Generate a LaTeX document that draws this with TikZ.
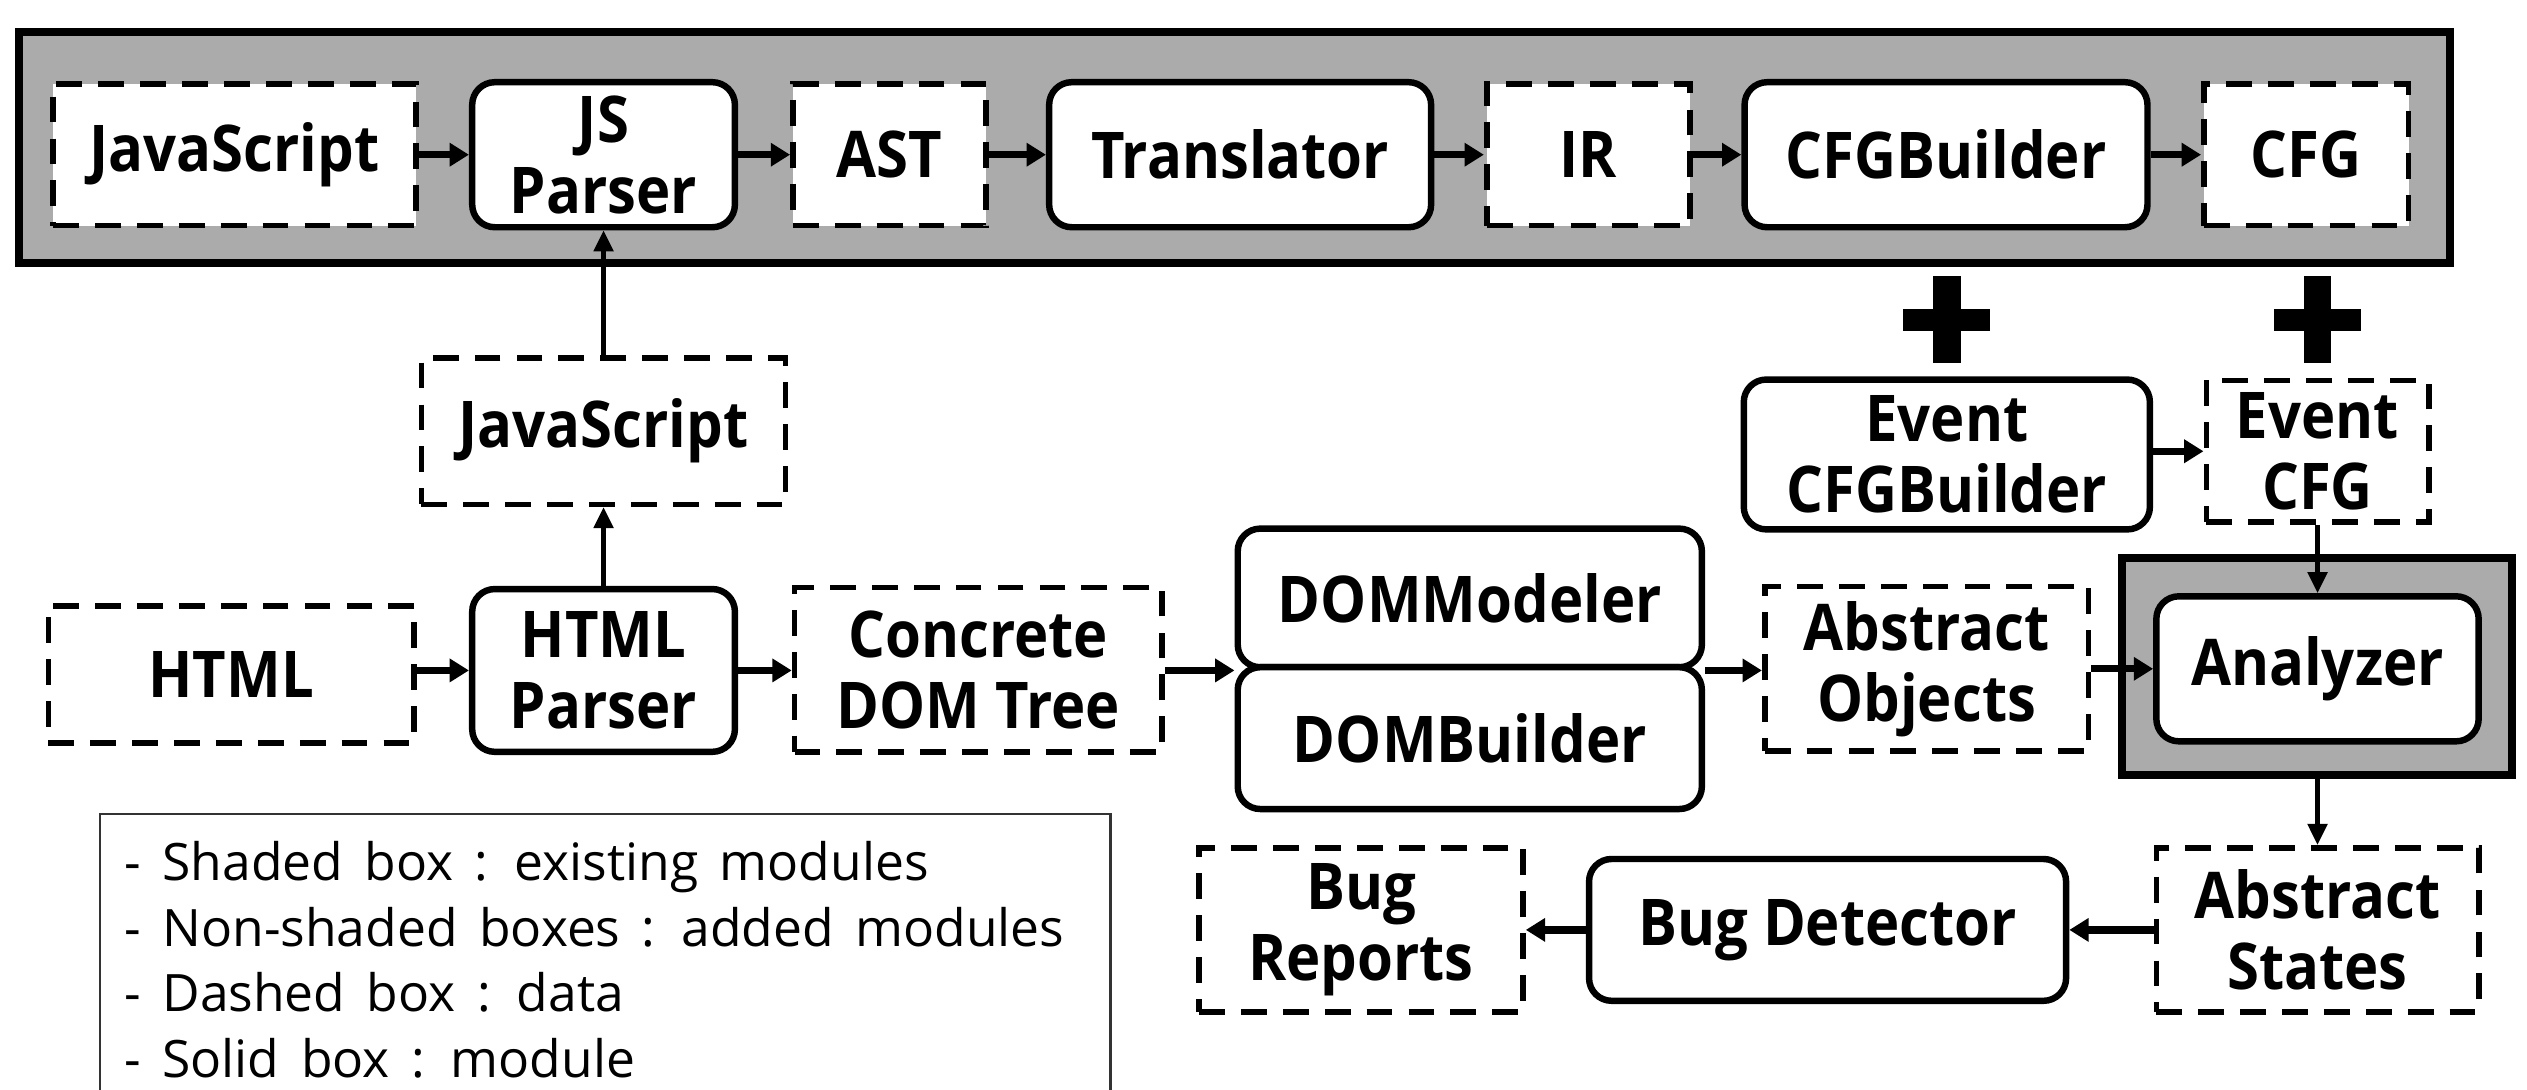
\documentclass[tikz,border=0pt]{standalone}
\usepackage{fontspec}
\usetikzlibrary{arrows.meta}
\newfontfamily\boxfont{Open Sans}[FakeStretch=0.90]
\newfontfamily\legfont{Open Sans}[FakeStretch=1.0, WordSpace=1.6]
\definecolor{shade}{HTML}{ABABAB}
\tikzset{
  base/.style={font=\boxfont\bfseries\fontsize{40}{44}\selectfont, align=center,
    inner sep=0pt, fill=white},
  databox/.style={base, draw, line width=3.5pt, dash pattern=on 16pt off 10pt},
  modbox/.style={base, draw, line width=4pt, rounded corners=14pt},
  frame/.style={draw, fill=shade, line width=5pt, inner sep=0pt},
  conn/.style={line width=4.5pt, -{Triangle[length=12pt,width=14pt]}},
  vconn/.style={line width=2.6pt, -{Triangle[length=13pt,width=12pt]}},
  plusbar/.style={fill=black},
}
\begin{document}
\begin{tikzpicture}[x=1pt, y=-1pt]
\useasboundingbox (0,0) rectangle (1568,676);
\clip (0,0) rectangle (1568,676);

% JavaScript front end (existing pipeline)
\node[frame, minimum width=1508pt, minimum height=143pt] (topframe) at (766,91.5) {};
\node[databox, minimum width=225pt, minimum height=88pt] (js1) at (145.5,96) {JavaScript};
\node[modbox, minimum width=163pt, minimum height=90pt] (jsp) at (374.5,96) {JS\\Parser};
\node[databox, minimum width=120pt, minimum height=88pt] (ast) at (552,96) {AST};
\node[modbox, minimum width=237pt, minimum height=90pt] (trans) at (769.5,96) {Translator};
\node[databox, minimum width=126pt, minimum height=88pt] (ir) at (985.5,96) {IR};
\node[modbox, minimum width=250pt, minimum height=90pt] (cfgb) at (1207.5,96) {CFGBuilder};
\node[databox, minimum width=127pt, minimum height=88pt] (cfg) at (1431,96) {CFG};

\draw[conn] (js1) -- (jsp);
\draw[conn] (jsp) -- (ast);
\draw[conn] (ast) -- (trans);
\draw[conn] (trans) -- (ir);
\draw[conn] (ir) -- (cfgb);
\draw[conn] (cfgb) -- (cfg);

% plus signs
\fill[plusbar] (1199.5,171) rectangle (1216.5,225);
\fill[plusbar] (1181,191.5) rectangle (1235,205.5);
\fill[plusbar] (1429.5,171) rectangle (1446.5,225);
\fill[plusbar] (1411,191.5) rectangle (1465,205.5);

% event handling
\node[modbox, minimum width=252pt, minimum height=93pt] (ecb) at (1208,282) {Event\\CFGBuilder};
\node[databox, minimum width=138pt, minimum height=88pt] (ecfg) at (1438,280) {Event\\CFG};
\draw[conn] (ecb.east |- ecfg.west) -- (ecfg.west);

% HTML front end
\node[databox, minimum width=226pt, minimum height=91pt] (jsm) at (374.5,267.5) {JavaScript};
\node[databox, minimum width=227pt, minimum height=85pt] (html) at (143.5,418.5) {HTML};
\node[modbox, minimum width=163pt, minimum height=101pt] (hp) at (374.5,416) {HTML\\Parser};
\node[databox, minimum width=228pt, minimum height=102pt] (cdt) at (607,415.5) {Concrete\\DOM Tree};
\node[modbox, minimum width=288pt, minimum height=86pt] (dmm) at (912,371) {DOMModeler};
\node[modbox, minimum width=288pt, minimum height=88pt] (dmb) at (912,458) {DOMBuilder};
\node[databox, minimum width=201pt, minimum height=102pt] (ao) at (1195.5,415) {Abstract\\Objects};

\draw[vconn] (jsm.north) -- (jsp.south);
\draw[vconn] (hp.north) -- (jsm.south);
\draw[conn] (html.east |- hp.west) -- (hp.west);
\draw[conn] (hp.east) -- (cdt.west |- hp.east);
\draw[conn] (cdt.east |- dmm.south west) -- (dmm.south west);
\draw[conn] (dmm.south east) -- (ao.west |- dmm.south east);

% analysis
\node[frame, minimum width=242pt, minimum height=135pt] (anf) at (1437.5,413.5) {};
\node[modbox, minimum width=200pt, minimum height=90pt] (an) at (1438,415) {Analyzer};
\draw[conn] (ao.east) -- (an.west |- ao.east);
\draw[vconn] (ecfg.south) -- (an.north);

\node[databox, minimum width=200pt, minimum height=102pt] (as) at (1438,577) {Abstract\\States};
\node[modbox, minimum width=296pt, minimum height=88pt] (bd) at (1134,577) {Bug Detector};
\node[databox, minimum width=201pt, minimum height=102pt] (br) at (844.5,577) {Bug\\Reports};
\draw[vconn] (anf.south -| as.north) -- (as.north);
\draw[conn] (as.west) -- (bd.east);
\draw[conn] (bd.west) -- (br.east);

% legend
\draw[line width=1.5pt, draw=black!80] (62,505) rectangle (689,720);
\node[anchor=north west, align=left, inner sep=0pt,
  font=\legfont\fontsize{32}{40.7}\selectfont] (legend) at (77,522)
  {- Shaded box : existing modules\\
   - Non-shaded boxes : added modules\\
   - Dashed box : data\\
   - Solid box : module};
\end{tikzpicture}
\end{document}
